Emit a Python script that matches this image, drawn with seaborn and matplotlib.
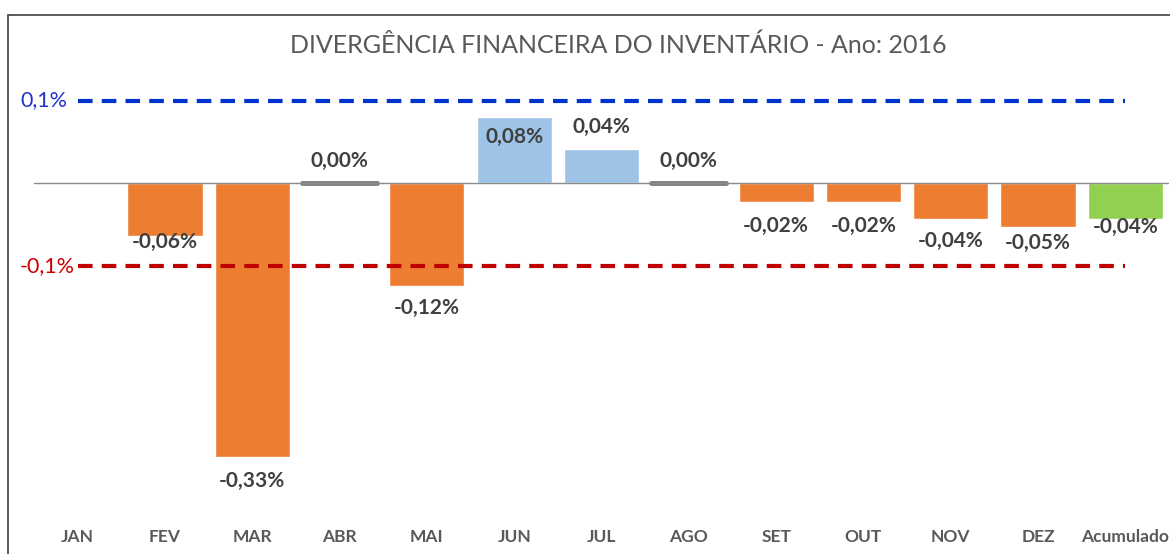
import numpy as np
import pandas as pd
import matplotlib
matplotlib.use("Agg")
import matplotlib.pyplot as plt
import seaborn as sns
from matplotlib.patches import Rectangle

# ----------------------------------------
# Data
# ----------------------------------------
months = ["JAN", "FEV", "MAR", "ABR", "MAI", "JUN", "JUL", "AGO",
          "SET", "OUT", "NOV", "DEZ", "Acumulado"]
divergence = [np.nan, -0.064, -0.332, 0.000, -0.124, 0.081, 0.042, 0.000,
              -0.023, -0.023, -0.043, -0.053, -0.043]
upper_limit = 0.1
lower_limit = -0.1
title = "DIVERGÊNCIA FINANCEIRA DO INVENTÁRIO - Ano: 2016"

# label offsets (pixels, positive = downward from bar end)
label_offsets = [0, 6, 24, -23, 22, 20, -22, -23, 24, 24, 22, 16, 8]

# ----------------------------------------
# Colours
# ----------------------------------------
ORANGE = "#ED7D31"
LIGHT_BLUE = "#9DC3E6"
GREEN = "#92D050"
GRAY = "#7F7F7F"


def bar_color(i, v):
    if i == len(months) - 1:
        return GREEN
    if np.isnan(v) or v == 0:
        return GRAY
    return LIGHT_BLUE if v > 0 else ORANGE


palette = {m: bar_color(i, v) for i, (m, v) in enumerate(zip(months, divergence))}
df = pd.DataFrame({"mes": months, "valor": divergence})

# ----------------------------------------
# Plot
# ----------------------------------------
sns.set_style("white")
plt.rcParams["font.family"] = ["Lato", "DejaVu Sans"]

fig = plt.figure(figsize=(11.7, 5.54), dpi=100)
ax = fig.add_axes([34 / 1170, 41.3 / 554, 1135 / 1170, 436.2 / 554])

sns.barplot(data=df, x="mes", y="valor", hue="mes", palette=palette, order=months,
            hue_order=months, legend=False, width=0.86, saturation=1, ax=ax)

# zero-value bars drawn as thick gray lines (match patch by its x position)
for p in ax.patches:
    i = int(round(p.get_x() + p.get_width() / 2))
    v = divergence[i]
    if not np.isnan(v) and v == 0:
        p.set_edgecolor(GRAY)
        p.set_linewidth(3.5)
        p.set_capstyle("round")
        p.set_joinstyle("round")

ax.axhline(0, color="#8C8C8C", lw=1, zorder=1)

xs = np.arange(len(months))
sns.lineplot(x=xs, y=[upper_limit] * len(months), color="#0033CC", lw=3, ax=ax)
sns.lineplot(x=xs, y=[lower_limit] * len(months), color="#C00000", lw=3, ax=ax)
for line in ax.lines[-2:]:
    line.set_linestyle((0, (3.5, 2.2)))

ax.set_xlim(-0.5, 12.5)
ax.set_ylim(-0.40, 0.13)

# limit labels
ax.annotate("0,1%", xy=(-0.5, upper_limit), xytext=(-10, 1), textcoords="offset points",
            ha="left", va="center", color="#2233CC", fontsize=15.5,
            annotation_clip=False)
ax.annotate("-0,1%", xy=(-0.5, lower_limit), xytext=(-10, 0), textcoords="offset points",
            ha="left", va="center", color="#CC0000", fontsize=15.5,
            annotation_clip=False)

# value labels
for i, (v, off) in enumerate(zip(divergence, label_offsets)):
    if np.isnan(v):
        continue
    txt = f"{v:.2f}%".replace(".", ",")
    ax.annotate(txt, xy=(i, v), xytext=(0, -off * 0.72), textcoords="offset points",
                ha="center", va="center", fontsize=15, fontweight="bold",
                color="#404040")

ax.set_xlabel("")
ax.set_ylabel("")
ax.set_yticks([])
ax.tick_params(axis="x", length=0, pad=12)
for lbl in ax.get_xticklabels():
    lbl.set_fontweight("bold")
    lbl.set_color("#595959")
    lbl.set_fontsize(12.5)
sns.despine(ax=ax, left=True, bottom=True, top=True, right=True)

fig.text(618 / 1170, 1 - 45 / 554, title, ha="center", va="center",
         fontsize=18, color="#595959")

# outer chart frame
fig.patches.append(Rectangle((8 / 1170, -0.1), 1.2, (554 - 15) / 554 + 0.1,
                             transform=fig.transFigure, fill=False,
                             edgecolor="#404040", lw=1.2))

fig.savefig("out.png", dpi=100)
plt.close(fig)
